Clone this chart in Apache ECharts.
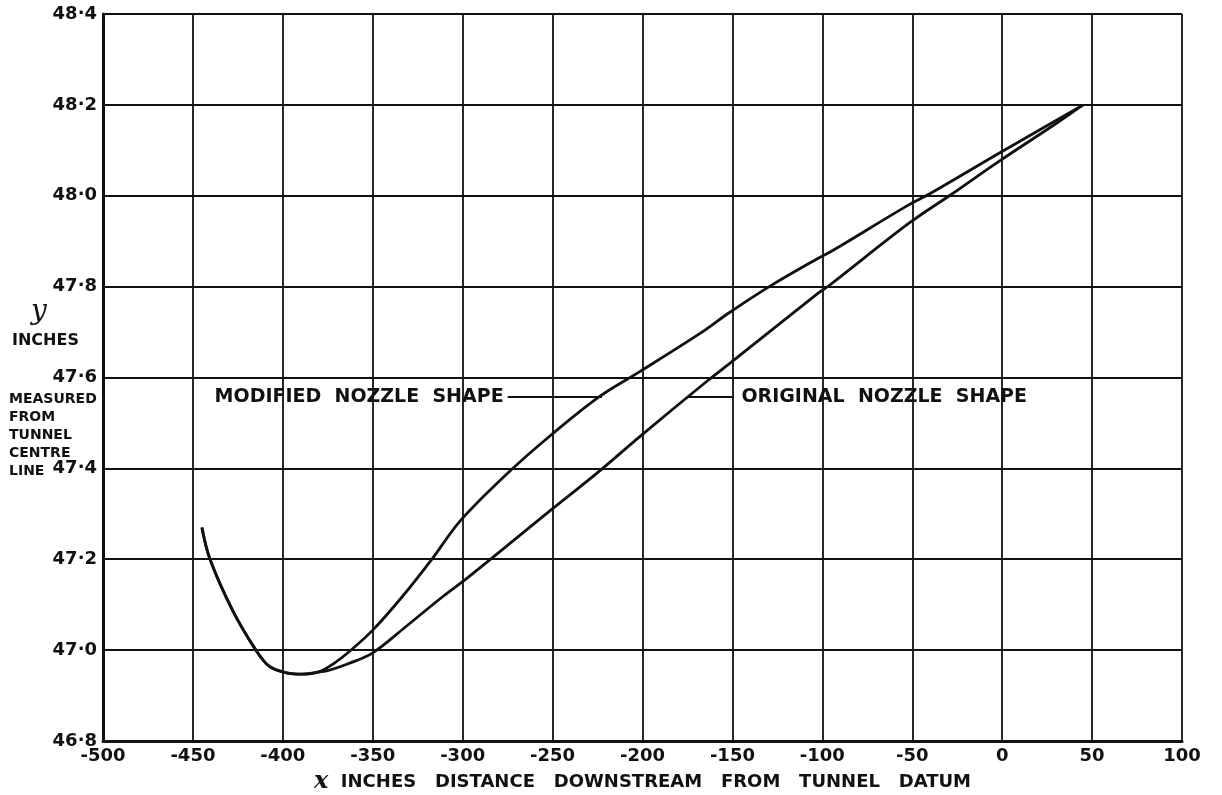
<!DOCTYPE html>
<html>
<head>
<meta charset="utf-8">
<title>Nozzle shape</title>
<script src="https://cdn.jsdelivr.net/npm/echarts@6/dist/echarts.min.js"></script>
<style>
  html, body { margin: 0; padding: 0; background: #fff; }
  #chart { width: 1222px; height: 795px; }
</style>
</head>
<body>
<div id="chart"></div>
<script>
// Nozzle wall profiles: [x inches downstream of datum, y inches from centre line]
const modifiedShape = [
  [-445, 47.27], [-440.5, 47.2], [-428, 47.088], [-415, 47.0], [-407.5, 46.964],
  [-398, 46.95], [-389, 46.947], [-380, 46.952], [-371.5, 46.971], [-363, 46.997],
  [-350, 47.044], [-333.5, 47.118], [-317.5, 47.198], [-301, 47.286], [-274, 47.393],
  [-251, 47.473], [-224, 47.558], [-201.5, 47.613], [-168, 47.697], [-152, 47.742],
  [-129.5, 47.8], [-102.5, 47.862], [-94, 47.88], [-52, 47.98], [-40, 48.005],
  [-2, 48.093], [45, 48.2]
];
const originalShape = [
  [-445, 47.27], [-440.5, 47.2], [-428, 47.088], [-415, 47.0], [-407.5, 46.964],
  [-398, 46.95], [-389, 46.947], [-381.5, 46.951], [-374, 46.956], [-363, 46.971],
  [-350, 46.994], [-331.5, 47.052], [-311, 47.118], [-297, 47.16], [-251, 47.308],
  [-225.5, 47.389], [-201.5, 47.47], [-163.5, 47.594], [-151.5, 47.631],
  [-102.5, 47.785], [-96, 47.803], [-52, 47.939], [-27.5, 48.005], [-2, 48.075],
  [30, 48.159], [45, 48.2]
];

// Axis ranges and ticks
const xRange = [-500, 100], xStep = 50;
const yRange = [46.8, 48.4], yStep = 0.2;

// Annotation texts and their leader lines (data units)
const modifiedLabel = 'MODIFIED  NOZZLE  SHAPE';
const originalLabel = 'ORIGINAL  NOZZLE  SHAPE';
const modifiedLeader = [[-275, 47.558], [-222.5, 47.558]];
const originalLeader = [[-174.5, 47.558], [-150, 47.558]];

const xName = 'INCHES   DISTANCE   DOWNSTREAM   FROM   TUNNEL   DATUM';
const yUnits = 'INCHES';
const yNote = 'MEASURED\nFROM\nTUNNEL\nCENTRE\nLINE';

const INK = '#111';
const SANS = '"DejaVu Sans", "Liberation Sans", sans-serif';

const chart = echarts.init(document.getElementById('chart'), null, { renderer: 'canvas' });

function leader(coords, text, pos) {
  return {
    silent: true,
    symbol: ['none', 'none'],
    lineStyle: { color: INK, width: 1.8, type: 'solid' },
    label: {
      show: true, position: pos, distance: pos === 'start' ? 4 : 9,
      formatter: text, color: INK, fontFamily: SANS, fontWeight: 'bold', fontSize: 19
    },
    data: [[{ coord: coords[0] }, { coord: coords[1] }]]
  };
}

chart.setOption({
  animation: false,
  backgroundColor: '#fff',
  grid: { left: 103, right: 40, top: 14, bottom: 54, outerBoundsMode: 'none', containLabel: false },
  xAxis: {
    type: 'value', min: xRange[0], max: xRange[1], interval: xStep,
    name: '{x|x}  ' + xName, nameLocation: 'middle', nameGap: 27,
    nameTextStyle: {
      color: INK, fontFamily: SANS, fontWeight: 'bold', fontSize: 18,
      rich: { x: { fontFamily: '"DejaVu Serif", serif', fontStyle: 'italic', fontSize: 24, color: INK } }
    },
    axisLine: { show: true, onZero: false, lineStyle: { color: INK, width: 3 } },
    axisTick: { show: false },
    axisLabel: { color: INK, fontFamily: SANS, fontWeight: 'bold', fontSize: 18, margin: 6 },
    splitLine: { show: true, lineStyle: { color: INK, width: 1.8 } }
  },
  yAxis: {
    type: 'value', min: yRange[0], max: yRange[1], interval: yStep,
    axisLine: { show: true, onZero: false, lineStyle: { color: INK, width: 3 } },
    axisTick: { show: false },
    axisLabel: {
      color: INK, fontFamily: SANS, fontWeight: 'bold', fontSize: 18, margin: 6,
      formatter: v => v.toFixed(1).replace('.', '\u00b7')
    },
    splitLine: { show: true, lineStyle: { color: INK, width: 1.8 } }
  },
  graphic: [
    { type: 'text', left: 31, top: 298,
      style: { text: 'y', font: 'italic 28px "DejaVu Serif", serif', fill: INK } },
    { type: 'text', left: 12, top: 333,
      style: { text: yUnits, font: 'bold 16px ' + SANS, fill: INK } },
    { type: 'text', left: 9, top: 390,
      style: { text: yNote, font: 'bold 14px ' + SANS, fill: INK, lineHeight: 18 } }
  ],
  series: [
    {
      name: 'Modified nozzle shape', type: 'line', data: modifiedShape,
      smooth: 0.35, showSymbol: false, symbol: 'none',
      lineStyle: { color: INK, width: 2.8 },
      markLine: leader(modifiedLeader, modifiedLabel, 'start')
    },
    {
      name: 'Original nozzle shape', type: 'line', data: originalShape,
      smooth: 0.35, showSymbol: false, symbol: 'none',
      lineStyle: { color: INK, width: 2.8 },
      markLine: leader(originalLeader, originalLabel, 'end')
    }
  ]
});
</script>
</body>
</html>
